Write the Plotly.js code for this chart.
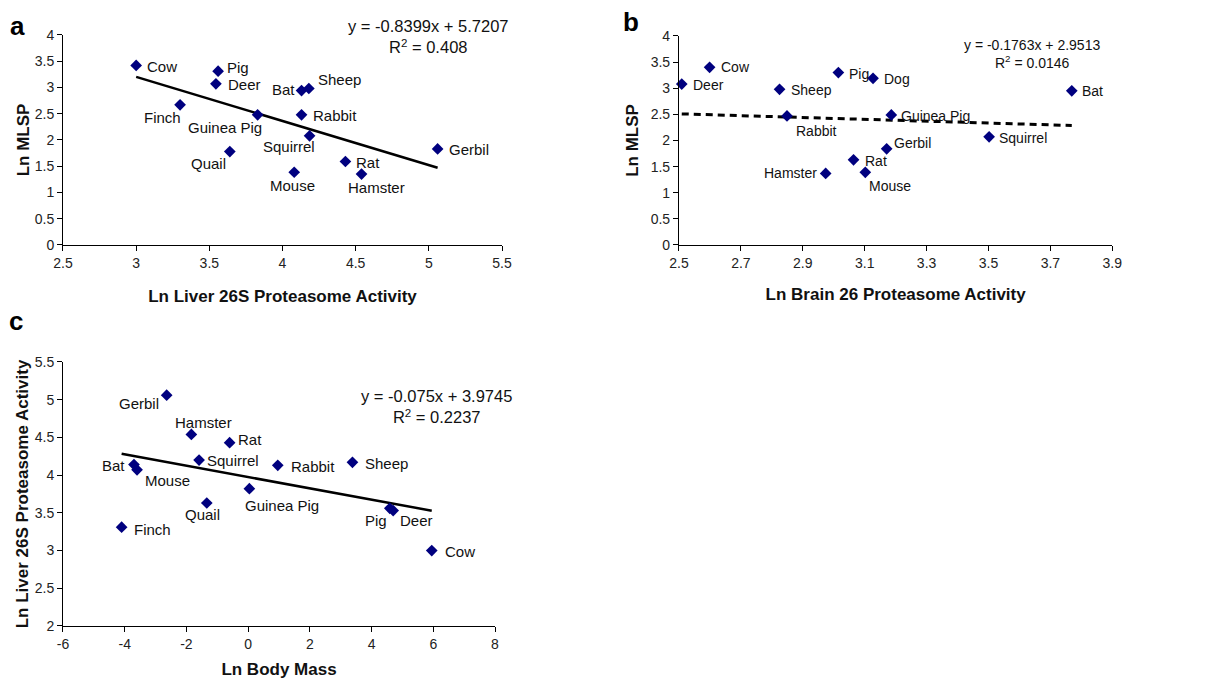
<!DOCTYPE html>
<html>
<head>
<meta charset="utf-8">
<script src="https://cdn.plot.ly/plotly-3.0.1.min.js"></script>
<style>html,body{margin:0;padding:0;background:#fff;}#chart{width:1228px;height:679px;}</style>
</head>
<body>
<div id="chart"></div>
<script>
// ---- Panel a: Ln MLSP vs Ln Liver 26S Proteasome Activity
const aSpecies = ["Cow","Pig","Deer","Finch","Guinea Pig","Quail","Bat","Sheep","Rabbit","Squirrel","Mouse","Rat","Hamster","Gerbil"];
const aLiver   = [3.00, 3.56, 3.545, 3.30, 3.83, 3.64, 4.13, 4.18, 4.13, 4.185, 4.08, 4.43, 4.54, 5.06];
const aMLSP    = [3.42, 3.31, 3.07, 2.67, 2.48, 1.78, 2.94, 2.98, 2.48, 2.08, 1.385, 1.59, 1.35, 1.83];
const aFit     = {slope: -0.8399, intercept: 5.7207, r2: "0.408"};

// ---- Panel b: Ln MLSP vs Ln Brain 26 Proteasome Activity
const bSpecies = ["Deer","Cow","Sheep","Rabbit","Pig","Dog","Guinea Pig","Gerbil","Rat","Mouse","Hamster","Squirrel","Bat"];
const bBrain   = [2.509, 2.599, 2.825, 2.849, 3.015, 3.127, 3.186, 3.171, 3.064, 3.102, 2.974, 3.502, 3.769];
const bMLSP    = [3.08, 3.40, 2.98, 2.47, 3.30, 3.19, 2.49, 1.84, 1.63, 1.39, 1.37, 2.07, 2.95];
const bFit     = {slope: -0.1763, intercept: 2.9513, r2: "0.0146"};

// ---- Panel c: Ln Liver 26S Proteasome Activity vs Ln Body Mass
const cSpecies = ["Gerbil","Hamster","Rat","Squirrel","Bat","Mouse","Rabbit","Sheep","Guinea Pig","Quail","Finch","Pig","Deer","Cow"];
const cMass    = [-2.64, -1.84, -0.60, -1.59, -3.70, -3.60, 0.96, 3.38, 0.04, -1.34, -4.10, 4.59, 4.70, 5.95];
const cLiver   = [5.06, 4.54, 4.43, 4.20, 4.14, 4.07, 4.13, 4.17, 3.82, 3.63, 3.31, 3.56, 3.53, 3.00];
const cFit     = {slope: -0.075, intercept: 3.9745, r2: "0.2237"};
const cMassTickVals   = [-6, -4, -2, 0, 2, 4, 6, 8];
const cMassTickLabels = ["-6", "-4", "-2", "0", "2", "4", "6", "8"];

// ---- label placement styles (anchor side, pixel offset from the marker)
const aAnchor = ["left","left","left","right","right","right","right","left","left","right","center","left","left","left"];
const aDx     = [10, 8, 11, 2, 5, -3, -6, 8, 10, 6, -2, 10, -15, 10];
const aDy     = [1, -4, 1, 13, 13, 12, -1, -9, 1, 11, 13, 1, 13, 1];
const bAnchor = ["left","left","left","left","left","left","left","left","left","left","right","left","left"];
const bDx     = [10, 10, 10, 8, 10, 10, 9, 6, 10, 3, -8, 9, 9];
const bDy     = [1, 0, 1, 15, 1, 1, 1, -6, 1, 14, 0, 1, 0];
const cAnchor = ["right","left","left","left","right","left","left","left","left","center","left","right","left","left"];
const cDx     = [-7, -17, 7, 7, -8, 7, 12, 12, -5, -4, 11, -2, 6, 12];
const cDy     = [8, -12, -3, 0, 1, 11, 1, 1, 17, 11, 2, 12, 10, 1];

const FONT = "Liberation Sans, Arial, sans-serif";
const NAVY = "#00007f";

function pointsTrace(x, y, names, xa, ya) {
  return {
    type: "scatter", mode: "markers", x: x, y: y, text: names,
    xaxis: xa, yaxis: ya, cliponaxis: false,
    marker: {symbol: "diamond", size: 9, color: NAVY},
    hoverinfo: "x+y+text", showlegend: false
  };
}
function fitTrace(x, fit, xa, ya, dash) {
  const x0 = Math.min(...x), x1 = Math.max(...x);
  return {
    type: "scatter", mode: "lines", x: [x0, x1],
    y: [fit.slope * x0 + fit.intercept, fit.slope * x1 + fit.intercept],
    xaxis: xa, yaxis: ya, line: {color: "#000", width: dash ? 3 : 2.5, dash: dash || "solid"},
    hoverinfo: "skip", showlegend: false
  };
}
function labelAnns(x, y, names, anchors, dx, dy, xa, ya, fs) {
  return names.map((n, i) => ({
    xref: xa, yref: ya, x: x[i], y: y[i], text: n, showarrow: false,
    xanchor: anchors[i], yanchor: "middle", xshift: dx[i], yshift: -dy[i],
    borderpad: 0, font: {family: FONT, size: fs, color: "#111"}
  }));
}
function eqText(fit) {
  return "y = " + fit.slope + "x + " + fit.intercept + "<br>R<sup>2</sup> = " + fit.r2;
}

const traces = [
  fitTrace(aLiver, aFit, "x", "y"),
  pointsTrace(aLiver, aMLSP, aSpecies, "x", "y"),
  fitTrace(bBrain, bFit, "x2", "y2", "7px,5px"),
  pointsTrace(bBrain, bMLSP, bSpecies, "x2", "y2"),
  fitTrace(cMass, cFit, "x3", "y3"),
  pointsTrace(cMass, cLiver, cSpecies, "x3", "y3")
];

function axisBase(domain, range, dtick, title, anchor, standoff) {
  return {
    domain: domain, range: range, dtick: dtick, tick0: range[0], anchor: anchor,
    showgrid: false, zeroline: false, showline: true, linecolor: "#000", linewidth: 1,
    ticks: "outside", ticklen: 5, tickcolor: "#000",
    tickfont: {family: FONT, size: 14, color: "#222"},
    title: {text: "<b>" + title + "</b>", font: {family: FONT, size: 17, color: "#111"}, standoff: standoff},
    automargin: false, fixedrange: true
  };
}

const xaxis3 = axisBase([0.0513, 0.4031], [-6, 8], 2, "Ln Body Mass", "y3", 13);
xaxis3.tickmode = "array";
xaxis3.tickvals = cMassTickVals;
xaxis3.ticktext = cMassTickLabels;

const layout = {
  width: 1228, height: 679,
  margin: {l: 0, r: 0, t: 0, b: 0},
  paper_bgcolor: "#fff", plot_bgcolor: "#fff",
  font: {family: FONT, color: "#111"},
  showlegend: false,
  xaxis:  axisBase([0.0513, 0.4088], [2.5, 5.5], 0.5, "Ln Liver 26S Proteasome Activity", "y", 20),
  yaxis:  axisBase([0.6392, 0.9485], [0, 4], 0.5, "Ln MLSP", "x", 0),
  xaxis2: axisBase([0.5529, 0.9058], [2.5, 3.9], 0.2, "Ln Brain 26 Proteasome Activity", "y2", 18),
  yaxis2: axisBase([0.6392, 0.9470], [0, 4], 0.5, "Ln MLSP", "x2", 7),
  xaxis3: xaxis3,
  yaxis3: axisBase([0.0781, 0.4669], [2, 5.5], 0.5, "Ln Liver 26S Proteasome Activity", "x3", 1),
  annotations: [
    {xref: "paper", yref: "paper", x: 8/1228, y: 1 - 26/679, text: "<b>a</b>", showarrow: false, xanchor: "left", yanchor: "middle", font: {family: FONT, size: 26, color: "#000"}},
    {xref: "paper", yref: "paper", x: 621/1228, y: 1 - 22/679, text: "<b>b</b>", showarrow: false, xanchor: "left", yanchor: "middle", font: {family: FONT, size: 26, color: "#000"}},
    {xref: "paper", yref: "paper", x: 7/1228, y: 1 - 321/679, text: "<b>c</b>", showarrow: false, xanchor: "left", yanchor: "middle", font: {family: FONT, size: 26, color: "#000"}},
    {xref: "paper", yref: "paper", x: 428/1228, y: 1 - 36/679, text: eqText(aFit), showarrow: false, align: "center", xanchor: "center", yanchor: "middle", font: {family: FONT, size: 16.5, color: "#111"}},
    {xref: "paper", yref: "paper", x: 1032/1228, y: 1 - 54/679, text: eqText(bFit), showarrow: false, align: "center", xanchor: "center", yanchor: "middle", font: {family: FONT, size: 14, color: "#111"}},
    {xref: "paper", yref: "paper", x: 436/1228, y: 1 - 406/679, text: eqText(cFit), showarrow: false, align: "center", xanchor: "center", yanchor: "middle", font: {family: FONT, size: 16.5, color: "#111"}}
  ].concat(
    labelAnns(aLiver, aMLSP, aSpecies, aAnchor, aDx, aDy, "x", "y", 15),
    labelAnns(bBrain, bMLSP, bSpecies, bAnchor, bDx, bDy, "x2", "y2", 14),
    labelAnns(cMass, cLiver, cSpecies, cAnchor, cDx, cDy, "x3", "y3", 15)
  )
};

Plotly.newPlot("chart", traces, layout, {staticPlot: true, displayModeBar: false});
</script>
</body>
</html>
